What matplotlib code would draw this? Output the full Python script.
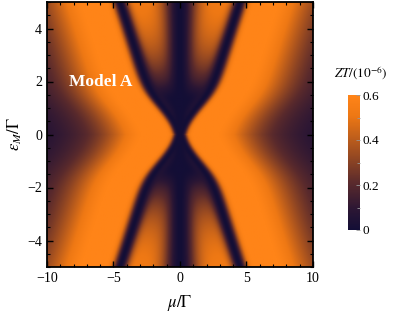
import numpy as np
import matplotlib.pyplot as plt
from matplotlib.colors import LinearSegmentedColormap

plt.rcParams['font.family'] = ['Liberation Serif', 'DejaVu Serif']
plt.rcParams['mathtext.fontset'] = 'stix'

# ── Axis ranges and ticks ─────────────────────────────────────
mu_range  = (-10, 10)
eps_range = (-5, 5)
x_ticks   = [-10, -5, 0, 5, 10]
y_ticks   = [-4, -2, 0, 2, 4]
cb_ticks  = [0, 0.2, 0.4, 0.6]
cb_labels = ['0', '0.2', '0.4', '0.6']
zt_max    = 0.6

# ── Fitted shape of the ZT map ────────────────────────────────
line_slope  = 0.64   # X-shaped zero lines  mu = +-L(eps)
line_offset = 1.3
line_bend   = 1.5
peak_out    = 0.62   # brightest value just outside the lines
decay_start = 2.0
decay_len   = 3.8
decay_pow   = 2.5
peak_in     = 0.55   # value between centre band and lines

mu  = np.linspace(*mu_range, 401)
eps = np.linspace(*eps_range, 251)
M, E = np.meshgrid(mu, eps)

L  = line_slope * np.abs(E) + line_offset * np.tanh((np.abs(E) / line_bend) ** 2)
d  = np.abs(M) - L
s0 = 0.3 + 0.12 * np.abs(E)
s1 = 0.25 + 0.15 * np.tanh(np.abs(E))

e_out = peak_out / (1 + (np.clip(d - decay_start, 0, None) / decay_len) ** decay_pow)
e_in  = peak_in * (1 - np.exp(-(np.clip(L - 1.6, 0, None) / 1.6) ** 2))
w     = 1 / (1 + np.exp(-d / 0.25))
env   = w * e_out + (1 - w) * e_in

ZT = env * (1 - np.exp(-M**2 / (2 * s0**2))) * (1 - np.exp(-d**2 / (2 * s1**2)))

cmap = LinearSegmentedColormap.from_list('sunset', [
    (0.00, '#130e36'),
    (0.15, '#2b1634'),
    (0.35, '#5a2a2c'),
    (0.60, '#a6511f'),
    (0.85, '#ee7814'),
    (1.00, '#ff8418'),
])

# ── Plot ──────────────────────────────────────────────────────
fig = plt.figure(figsize=(3.99, 3.15), dpi=100)
ax  = fig.add_axes([47/399, 1 - 267/315, 266/399, 265/315])

im = ax.imshow(ZT, origin='lower', extent=[*mu_range, *eps_range],
               aspect='auto', cmap=cmap, vmin=0, vmax=zt_max,
               interpolation='bilinear')

ax.set_xticks(x_ticks)
ax.set_yticks(y_ticks)
ax.set_xticks(np.arange(-10, 11, 1), minor=True)
ax.set_yticks(np.arange(-5, 5.01, 0.5), minor=True)
ax.set_xticklabels([f'{t}'.replace('-', '\u2212') for t in x_ticks])
ax.set_yticklabels([f'{t}'.replace('-', '\u2212') for t in y_ticks])
ax.tick_params(which='both', direction='in', top=True, right=True,
               labelsize=10, color='black')
ax.tick_params(which='major', length=4, width=1)
ax.tick_params(which='minor', length=2.5, width=0.8)
for s in ax.spines.values():
    s.set_linewidth(1.3)

ax.set_xlabel(r'$\mu/\Gamma$', fontsize=12, labelpad=6)
ax.set_ylabel(r'$\varepsilon_M/\Gamma$', fontsize=12, labelpad=2)

ax.text(-6.0, 2.0, 'Model A', color='white', fontsize=12.5,
        fontweight='bold', ha='center', va='center')

# ── Colorbar ─────────────────────────────────────────────────
cax = fig.add_axes([348/399, 1 - 230/315, 12/399, 135/315])
cb = fig.colorbar(im, cax=cax, ticks=cb_ticks)
cb.ax.set_yticklabels(cb_labels)
cb.outline.set_visible(False)
cb.ax.tick_params(direction='in', length=3, width=0.6, color='#999999',
                  labelsize=9.5, pad=2)
cb.ax.set_yticks([0.1, 0.3, 0.5], minor=True)
cb.ax.tick_params(which='minor', direction='in', length=2, color='#999999')
fig.text(361/399, 1 - 73/315, r'$ZT/(10^{-6})$', fontsize=9.5,
         ha='center', va='center')

plt.savefig('out.png', dpi=100)
